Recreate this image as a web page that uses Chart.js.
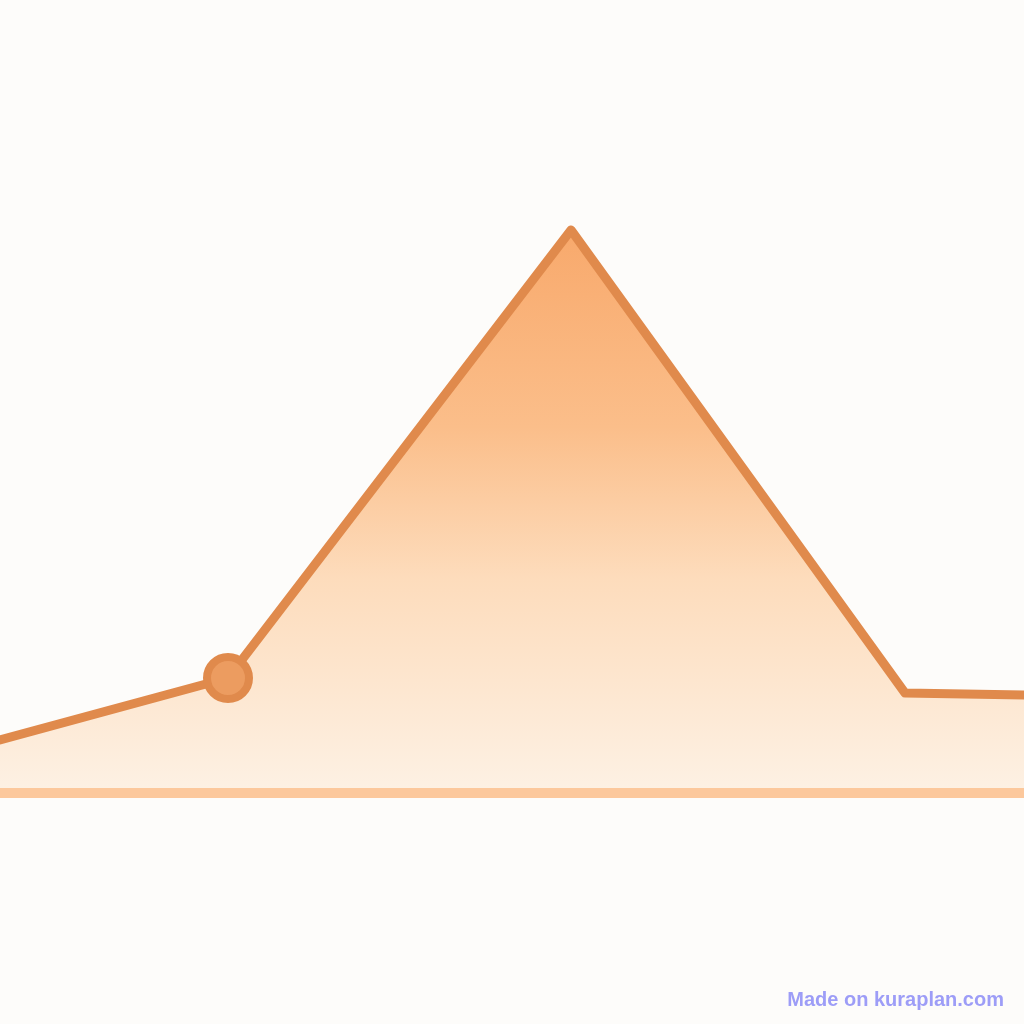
<!DOCTYPE html>
<html>
<head>
<meta charset="utf-8">
<script src="https://cdn.jsdelivr.net/npm/chart.js@4"></script>
<style>
  html, body { margin: 0; padding: 0; background: #fdfcfa; }
  #wrap { position: relative; width: 1024px; height: 1024px; }
  #mark {
    position: absolute; right: 20px; bottom: 13px;
    font-family: "Liberation Sans", Arial, sans-serif; font-weight: bold;
    font-size: 20px; color: #9d9df7;
  }
</style>
</head>
<body>
<div id="wrap">
  <canvas id="chart" width="1024" height="1024"></canvas>
  <div id="mark">Made on kuraplan.com</div>
</div>
<script>
// --- data ---
const xValues = [0, 228, 571, 905, 1024];
const yValues = [53, 115, 563, 100, 98];
const markerRadius = [0, 21, 0, 0, 0];
const baseX = [0, 1024];
const baseY = [0, 0];

const ctx = document.getElementById("chart").getContext("2d");

function areaGradient(context) {
    const area = context.chart.chartArea;
    if (!area) return 'rgba(248,168,104,0.6)';
    const g = context.chart.ctx.createLinearGradient(0, 230, 0, area.bottom);
    g.addColorStop(0, '#f8a96c');
    g.addColorStop(0.35, '#fbbe8a');
    g.addColorStop(0.62, '#fddcbc');
    g.addColorStop(1, '#fdf1e4');
    return g;
}

new Chart(ctx, {
    type: 'line',
    data: {
        datasets: [
            {
                data: baseX.map((x, i) => ({ x: x, y: baseY[i] })),
                borderColor: '#fcc89c',
                borderWidth: 10,
                pointRadius: 0,
                fill: false,
                order: 0
            },
            {
                data: xValues.map((x, i) => ({ x: x, y: yValues[i] })),
                borderColor: '#e08a4c',
                borderWidth: 9,
                borderJoinStyle: 'round',
                borderCapStyle: 'round',
                tension: 0,
                fill: 'origin',
                backgroundColor: areaGradient,
                pointRadius: markerRadius,
                pointBackgroundColor: '#ec9c60',
                pointBorderColor: '#e08a4c',
                pointBorderWidth: 8,
                order: 1
            }
        ]
    },
    options: {
        responsive: false,
        animation: false,
        events: [],
        clip: false,
        layout: { padding: { left: 0, right: 0, top: 0, bottom: 231 } },
        plugins: { legend: { display: false }, tooltip: { enabled: false } },
        scales: {
            x: { type: 'linear', min: 0, max: 1024, display: false },
            y: { min: 0, max: 793, display: false }
        }
    }
});
</script>
</body>
</html>
